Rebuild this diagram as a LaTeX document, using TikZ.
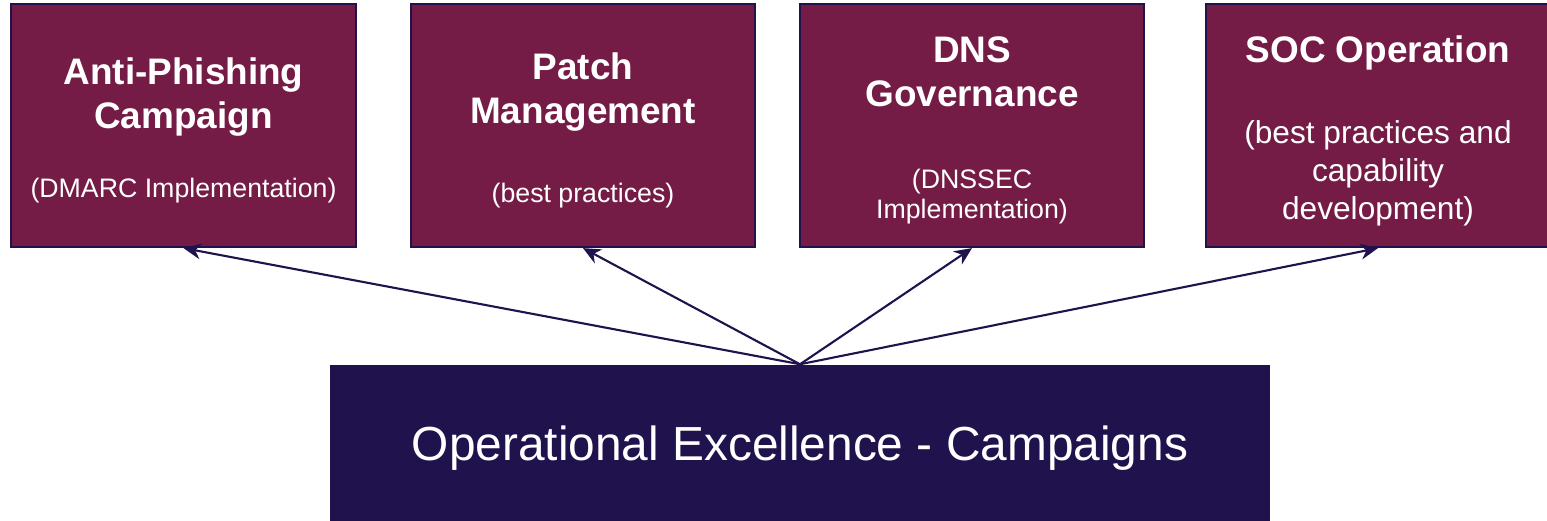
\documentclass[tikz,border=0pt]{standalone}
\usepackage{fontspec}
\setmainfont{Liberation Sans}
\usetikzlibrary{arrows.meta}

\definecolor{wine}{HTML}{741C46}
\definecolor{navy}{HTML}{20124D}

\newcommand{\headfont}{\fontsize{10.5}{12.4}\selectfont\bfseries}
\newcommand{\subfont}{\fontsize{7.6}{12.4}\selectfont\mdseries}
\newcommand{\bigsubfont}{\fontsize{9}{12.4}\selectfont\mdseries}

\tikzset{
	topbox/.style={draw=navy, line width=0.6pt, fill=wine, inner sep=0pt,
		minimum width=3.44cm, minimum height=2.43cm},
	boxtext/.style={text=white, inner sep=0pt, align=center, font=\fontsize{10}{12.4}\selectfont},
	basebox/.style={fill=navy, text=white, inner sep=0pt, minimum width=9.4cm,
		minimum height=1.56cm, text height=9.7pt, text depth=0pt, font=\fontsize{13.6}{16}\selectfont},
	link/.style={navy, line width=0.6pt, -{Stealth[length=5pt,width=4.5pt]}}
}

\begin{document}
\begin{tikzpicture}[x=0.01cm, y=-0.01cm]
				\useasboundingbox (0,0) rectangle (1547,521);

				\node[topbox] (phish) at (183.5,125.5) {};
				\node[topbox] (patch) at (583,125.5) {};
				\node[topbox] (dns) at (972,125.5) {};
				\node[topbox] (soc) at (1378,125.5) {};

				\node[boxtext] (phishtext) at (183.5,130.5) {\headfont Anti-Phishing\\\headfont Campaign\\[7.2pt]\subfont (DMARC Implementation)};
				\node[boxtext] (patchtext) at (583,130.5) {\headfont Patch\\\headfont Management\\[10.1pt]\subfont (best practices)};
				\node[boxtext] (dnstext) at (972,130.5) {\headfont DNS\\\headfont Governance\\[10.9pt]\subfont (DNSSEC\\[-3.9pt]\subfont Implementation)};
				\node[boxtext] (soctext) at (1378,130.5) {\headfont SOC Operation\\[10.6pt]\bigsubfont (best practices and\\[-1.6pt]\bigsubfont capability\\[-1.6pt]\bigsubfont development)};

				\node[basebox] (ops) at (800,443) {Operational Excellence - Campaigns};

				% arrows from the campaigns box up to each topic
				\foreach \t in {phish,patch,dns,soc}
					\draw[link] (ops.north) -- (\t.south);
			\end{tikzpicture}
\end{document}
